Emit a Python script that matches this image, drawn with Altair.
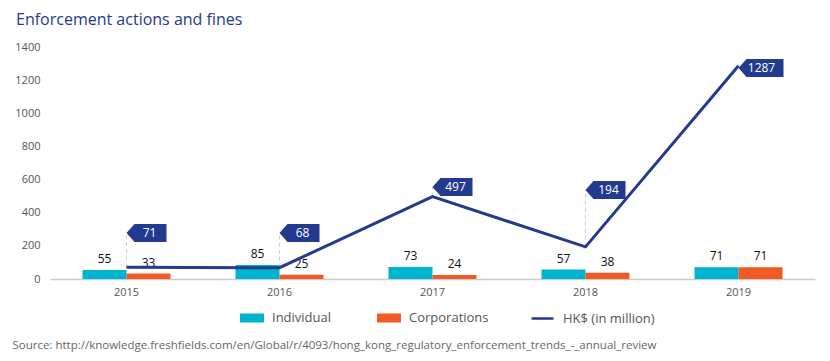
import altair as alt
import pandas as pd

# ---- data ----
years = ["2015", "2016", "2017", "2018", "2019"]
individual = [55, 85, 73, 57, 71]
corporations = [33, 25, 24, 38, 71]
fines = [71, 68, 497, 194, 1287]
series_names = ["Individual", "Corporations"]
line_name = "HK$ (in million)"
y_ticks = [0, 200, 400, 600, 800, 1000, 1200, 1400]

# ---- layout (callout tag levels, in axis units) ----
callout_level = [278, 278, 555, 537, 1273]

CYAN = "#00b3cf"
ORANGE = "#f15a24"
NAVY = "#233a8e"
FONT = "Open Sans"

bars = pd.DataFrame(
    [{"year": y, "series": series_names[0], "value": v} for y, v in zip(years, individual)]
    + [{"year": y, "series": series_names[1], "value": v} for y, v in zip(years, corporations)]
)
line_df = pd.DataFrame(
    {"year": years, "fines": fines, "level": callout_level,
     "label": [str(v) for v in fines], "name": line_name}
)

source = "Source: http://knowledge.freshfields.com/en/Global/r/4093/hong_kong_regulatory_enforcement_trends_-_annual_review"

x_axis = alt.Axis(
    title=source, titleX=-38, titleY=66, titleAlign="left", titleBaseline="middle",
    titleFont=FONT, titleFontSize=11.5, titleFontWeight="normal", titleColor="#666",
    labelAngle=0, labelFont=FONT, labelFontSize=11, labelColor="#555",
    labelPadding=7, ticks=False, domainColor="#cccccc", domainWidth=1.5,
)
x_scale = alt.Scale(paddingInner=0.425, paddingOuter=0.2125)
y_scale = alt.Scale(domain=[0, 1400], nice=False)
y_axis = alt.Axis(
    title=None, values=y_ticks, format="d", labelOverlap=False, grid=False, domain=False,
    ticks=False, labelFont=FONT, labelFontSize=11, labelColor="#555", labelPadding=10,
)


def X():
    return alt.X("year:N", sort=years, scale=x_scale, axis=x_axis)


def Y(field):
    return alt.Y(field, scale=y_scale, axis=y_axis)


bar_layer = alt.Chart(bars).mark_bar(size=44).encode(
    x=X(),
    xOffset=alt.XOffset("series:N", sort=series_names, scale=alt.Scale(paddingInner=0, paddingOuter=0)),
    y=Y("value:Q"),
    color=alt.Color(
        "series:N",
        scale=alt.Scale(domain=series_names, range=[CYAN, ORANGE]),
        legend=alt.Legend(
            orient="none", legendX=190, legendY=259, direction="horizontal", title=None,
            symbolType="M-1,-0.375L1,-0.375L1,0.375L-1,0.375Z", symbolSize=576,
            symbolStrokeWidth=0, labelFont=FONT, labelFontSize=13, labelColor="#555",
            labelOffset=8, columnPadding=45, padding=0,
        ),
    ),
)

bar_text = alt.Chart(bars).mark_text(
    font=FONT, fontSize=12, color="#111", baseline="alphabetic", dy=-7
).encode(
    x=X(),
    xOffset=alt.XOffset("series:N", sort=series_names),
    y=Y("value:Q"),
    text=alt.Text("value:Q"),
)

leaders = alt.Chart(line_df).mark_rule(
    color="#cfcfcf", strokeDash=[4, 3], strokeWidth=1
).encode(
    x=X(),
    y=Y("fines:Q"),
    y2="level:Q",
)

line = alt.Chart(line_df).mark_line(strokeWidth=3).encode(
    x=X(),
    y=Y("fines:Q"),
    stroke=alt.Stroke(
        "name:N",
        scale=alt.Scale(domain=[line_name], range=[NAVY]),
        legend=alt.Legend(
            orient="none", legendX=480, legendY=259, direction="horizontal", title=None,
            symbolType="stroke", symbolSize=484, symbolStrokeWidth=2.5,
            labelFont=FONT, labelFontSize=13, labelColor="#555", labelOffset=8, padding=0,
        ),
    ),
)

TAG = "M0,0L0.8,-0.9L4,-0.9L4,0.9L0.8,0.9Z"
TAG_WIDE = "M0,0L0.8,-0.9L4.5,-0.9L4.5,0.9L0.8,0.9Z"

tags = alt.Chart(line_df).mark_point(
    filled=True, size=400, opacity=1, fill=NAVY, strokeWidth=0
).encode(
    x=X(),
    y=Y("level:Q"),
    shape=alt.condition("length(datum.label) > 3", alt.value(TAG_WIDE), alt.value(TAG)),
)

tag_text = alt.Chart(line_df).mark_text(
    font=FONT, fontSize=12, color="white", align="center", baseline="middle", dx=23
).encode(
    x=X(),
    y=Y("level:Q"),
    text="label:N",
)

chart = (
    alt.layer(bar_layer, bar_text, leaders, line, tags, tag_text)
    .resolve_scale(color="independent")
    .properties(
        width=765, height=232,
        autosize=alt.AutoSizeParams(type="none"),
        padding={"left": 42, "top": 39, "right": 7, "bottom": 74},
        title=alt.TitleParams(
            "Enforcement actions and fines", anchor="start", frame="group",
            dx=-34, offset=13, font=FONT, fontSize=16, fontWeight=500, color=NAVY,
        ),
    )
    .configure_view(stroke=None)
)

chart.save("out.html", embed_options={"renderer": "svg", "actions": False})
